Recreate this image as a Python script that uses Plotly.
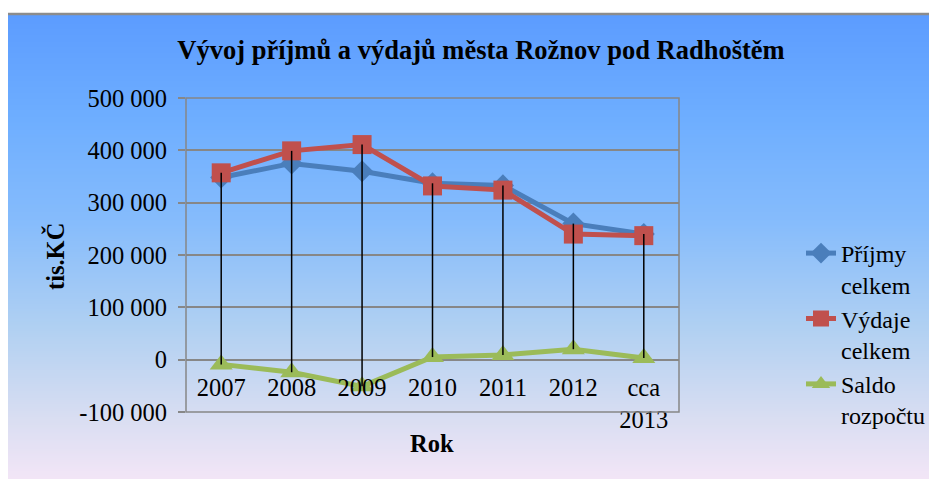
import plotly.graph_objects as go
import zlib, struct, base64

# ---- data (tis. Kč) ----
categories = ["2007", "2008", "2009", "2010", "2011", "2012", "cca 2013"]
cat_labels = ["2007", "2008", "2009", "2010", "2011", "2012", "cca<br>2013"]
prijmy = [348000, 375000, 360000, 337000, 333000, 260000, 240000]
vydaje = [357000, 399000, 411000, 332000, 324000, 240000, 237000]
saldo = [-9000, -24000, -51000, 5000, 9000, 20000, 3000]
y_tickvals = [-100000, 0, 100000, 200000, 300000, 400000, 500000]
y_ticktext = ["-100 000", "0", "100 000", "200 000", "300 000", "400 000", "500 000"]

W, H = 937, 479
OFF = 8  # page body margin
L, R, T, B = 186, 679, 98, 412  # plot area in page pixels

def px(x):
    return (x - L) / (R - L)

def py(y):
    return (B - y) / (B - T)

FONT = "Liberation Serif, Times New Roman, serif"

# ---- gradient background image ----
stops = [(0, (92, 156, 255)), (100, (110, 174, 255)), (200, (134, 188, 252)),
         (300, (176, 208, 242)), (390, (218, 222, 242)), (465, (251, 232, 248))]

def col_at(i):
    for (a, ca), (b, cb) in zip(stops[:-1], stops[1:]):
        if a <= i <= b:
            t = (i - a) / (b - a)
            return tuple(int(round(ca[k] + (cb[k] - ca[k]) * t)) for k in range(3))
    return stops[-1][1]

GH = 466
raw = b"".join(b"\x00" + bytes(col_at(i)) for i in range(GH))

def chunk(tag, data):
    c = struct.pack(">I", len(data)) + tag + data
    return c + struct.pack(">I", zlib.crc32(tag + data) & 0xffffffff)

png = b"\x89PNG\r\n\x1a\n" + chunk(b"IHDR", struct.pack(">IIBBBBB", 1, GH, 8, 2, 0, 0, 0)) \
      + chunk(b"IDAT", zlib.compress(raw)) + chunk(b"IEND", b"")
uri = "data:image/png;base64," + base64.b64encode(png).decode()

fig = go.Figure()

fig.add_trace(go.Scatter(
    x=categories, y=prijmy, name="Příjmy<br>celkem", mode="lines+markers",
    line=dict(color="#4a7ebb", width=5),
    marker=dict(symbol="diamond", size=17, color="#4a7ebb")))
fig.add_trace(go.Scatter(
    x=categories, y=vydaje, name="Výdaje<br>celkem", mode="lines+markers",
    line=dict(color="#c0504d", width=5),
    marker=dict(symbol="square", size=19, color="#c0504d")))
fig.add_trace(go.Scatter(
    x=categories, y=saldo, name="Saldo<br>rozpočtu", mode="lines+markers",
    line=dict(color="#9bbb59", width=5),
    marker=dict(symbol="triangle-up", size=20, color="#9bbb59")))

# high-low lines
hx, hy = [], []
for c, a, b, s in zip(categories, prijmy, vydaje, saldo):
    hx += [c, c, None]
    hy += [max(a, b, s), min(a, b, s), None]
fig.add_trace(go.Scatter(x=hx, y=hy, mode="lines", showlegend=False,
                         line=dict(color="black", width=1.5), hoverinfo="skip"))

fig.update_layout(
    width=W, height=H,
    margin=dict(l=L - OFF, r=W - (R - OFF), t=T - OFF, b=H - (B - OFF), pad=0,
                autoexpand=False),
    paper_bgcolor="white",
    plot_bgcolor="white",
    font=dict(family=FONT, size=24.5, color="black"),
    title=dict(text="<b>Vývoj příjmů a výdajů města Rožnov pod Radhoštěm</b>",
               font=dict(family=FONT, size=26.5, color="black"),
               xref="container", yref="container", x=(481 - OFF) / W, xanchor="center",
               y=1 - (50 - OFF) / H, yanchor="middle"),
    showlegend=True,
    legend=dict(x=px(801), y=py(231), xanchor="left", yanchor="top",
                bgcolor="rgba(0,0,0,0)", font=dict(family=FONT, size=24),
                valign="top", tracegroupgap=0),
    xaxis=dict(type="category", categoryorder="array", categoryarray=categories,
               range=[-0.5, 6.5], tickvals=categories, ticktext=cat_labels,
               anchor="free", position=1 / 6, showline=False, showgrid=False,
               zeroline=False, ticks="", ticklabelstandoff=11, automargin=False,
               tickfont=dict(family=FONT, size=24.5)),
    yaxis=dict(range=[-100000, 500000], tickvals=y_tickvals, ticktext=y_ticktext,
               showgrid=True, gridcolor="#878787", gridwidth=1.5,
               zeroline=True, zerolinecolor="#878787", zerolinewidth=1.5,
               showline=False, ticks="outside", ticklen=7, tickcolor="#878787",
               tickwidth=1.5, ticklabelstandoff=6, automargin=False,
               tickfont=dict(family=FONT, size=24.5)),
    images=[dict(source=uri, xref="paper", yref="paper", x=px(6), y=py(14),
                 sizex=px(W + 20) - px(6), sizey=py(14) - py(H + 20),
                 xanchor="left", yanchor="top", sizing="stretch", layer="below")],
    shapes=[
        dict(type="rect", xref="paper", yref="paper", x0=px(6), x1=px(W + 30),
             y0=py(14), y1=py(H + 30), line=dict(color="#8c8c8c", width=2.5),
             layer="above"),
        dict(type="rect", xref="paper", yref="paper", x0=0, x1=1, y0=0, y1=1,
             line=dict(color="#878787", width=1.5), layer="above"),
    ],
    annotations=[
        dict(text="<b>Rok</b>", xref="paper", yref="paper", x=px(432), y=py(443),
             xanchor="center", yanchor="middle", showarrow=False,
             font=dict(family=FONT, size=24.5)),
        dict(text="<b>tis.KČ</b>", xref="paper", yref="paper", x=px(55), y=py(257),
             xanchor="center", yanchor="middle", showarrow=False, textangle=-90,
             font=dict(family=FONT, size=24.5)),
    ],
)

fig.write_html("out.html")
